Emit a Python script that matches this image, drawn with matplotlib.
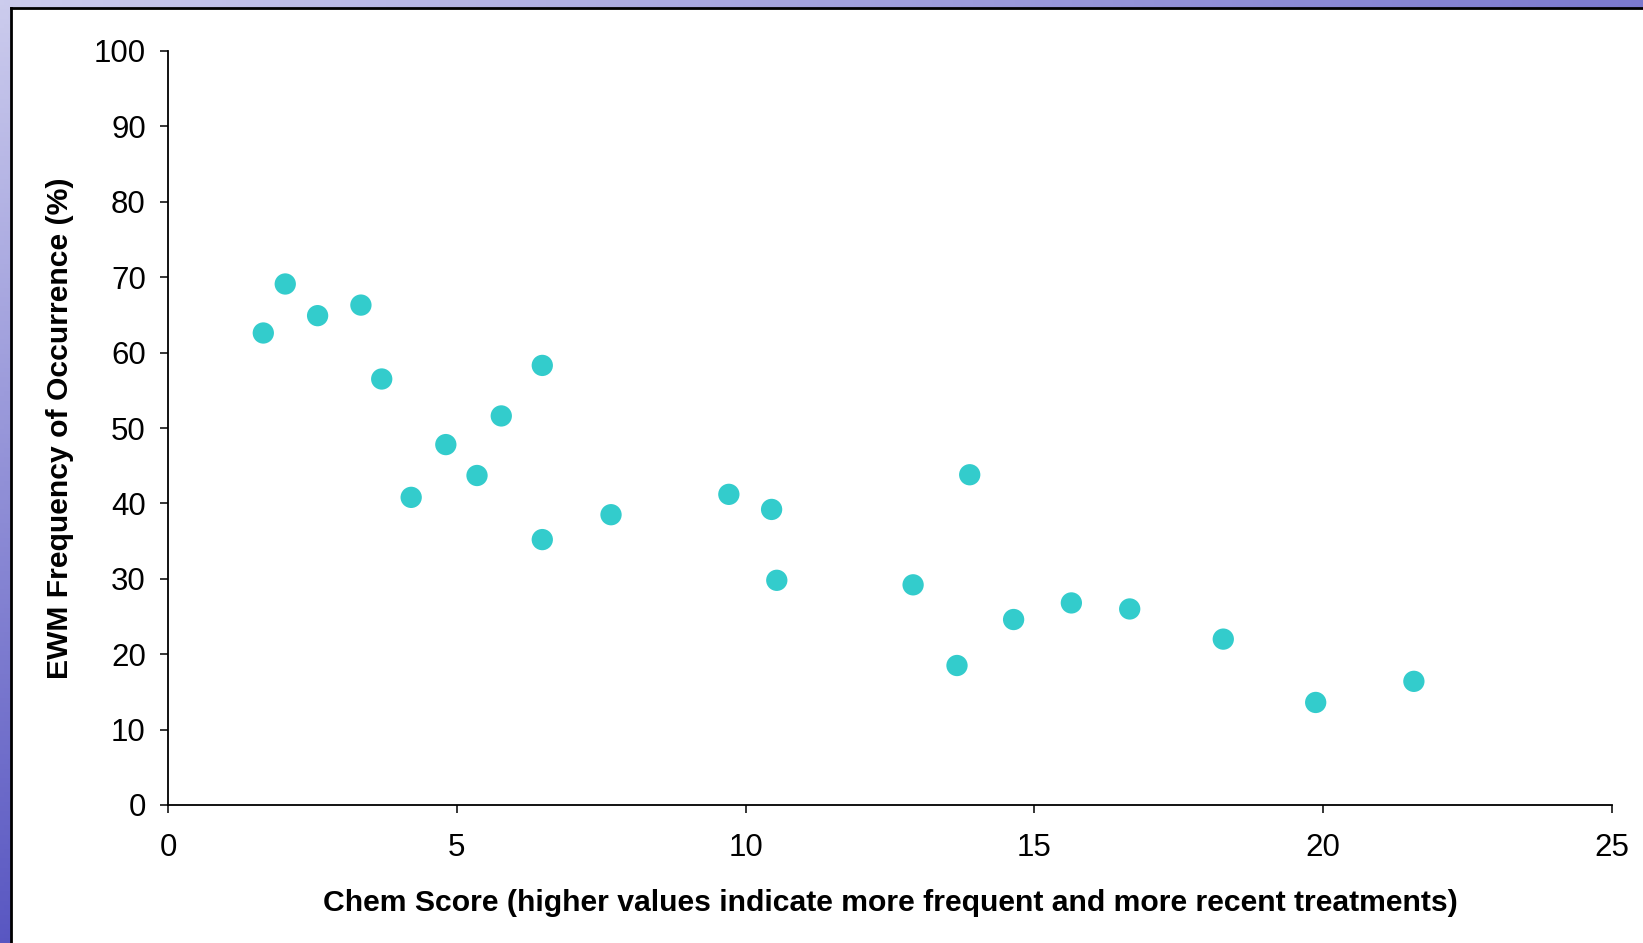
import matplotlib
matplotlib.use("Agg")
import matplotlib.pyplot as plt
import numpy as np
from matplotlib.patches import Rectangle

plt.rcParams['font.family'] = ['Liberation Sans', 'DejaVu Sans']

# chem score vs EWM frequency
chem_score = [1.65, 2.03, 2.59, 3.34, 3.70, 4.21, 4.81, 5.35, 5.77, 6.48, 6.48, 7.67,
              9.71, 10.45, 10.54, 12.90, 13.66, 13.88, 14.64, 15.64, 16.65, 18.27, 19.87, 21.57]
ewm_freq = [62.6, 69.1, 64.9, 66.3, 56.5, 40.8, 47.8, 43.7, 51.6, 58.3, 35.2, 38.5,
            41.2, 39.2, 29.8, 29.2, 18.5, 43.8, 24.6, 26.8, 26.0, 22.0, 13.6, 16.4]

xticks = [0, 5, 10, 15, 20, 25]
yticks = list(range(0, 101, 10))

W, H = 1643, 943
fig = plt.figure(figsize=(W / 100, H / 100), dpi=100)

# slide background: blue gradient strip at top and left
bg = fig.add_axes([0, 0, 1, 1])
rows, cols = 200, 400
r = np.linspace(0, 1, rows)[:, None]
c = np.linspace(0, 1, cols)[None, :]
t = np.clip(0.6 * c + 0.85 * r, 0, 1)
light = np.array([0.80, 0.80, 0.93])
dark = np.array([0.27, 0.26, 0.73])
img = light[None, None, :] * (1 - t[..., None]) + dark[None, None, :] * t[..., None]
bg.imshow(img, aspect='auto', extent=[0, 1, 0, 1], origin='upper')
bg.set_xlim(0, 1)
bg.set_ylim(0, 1)
bg.axis('off')

px, py = 11 / W, 8 / H
bg.add_patch(Rectangle((px, 0), 1 - px, 1 - py, facecolor='white', edgecolor='none'))
bg.plot([px, px], [0, 1 - py], color='black', lw=2)
bg.plot([px, 1], [1 - py, 1 - py], color='black', lw=2)

ax = fig.add_axes([168 / W, 138 / H, (1612 - 168) / W, (805 - 51) / H])
ax.patch.set_alpha(0)
ax.scatter(chem_score, ewm_freq, s=235, color='#33CCCC', edgecolors='none', zorder=3)

ax.set_xlim(0, 25)
ax.set_ylim(0, 100)
ax.set_xticks(xticks)
ax.set_yticks(yticks)
ax.spines['top'].set_visible(False)
ax.spines['right'].set_visible(False)
for s in ['left', 'bottom']:
    ax.spines[s].set_linewidth(1.3)
ax.tick_params(direction='out', length=6, width=1.1, labelsize=22.5, pad=10)
ax.tick_params(axis='x', pad=14)

ax.set_xlabel('Chem Score (higher values indicate more frequent and more recent treatments)',
              fontsize=21.7, fontweight='bold', labelpad=19)
ax.set_ylabel('EWM Frequency of Occurrence (%)', fontsize=21.7, fontweight='bold', labelpad=14)

fig.savefig('out.png', dpi=100)
